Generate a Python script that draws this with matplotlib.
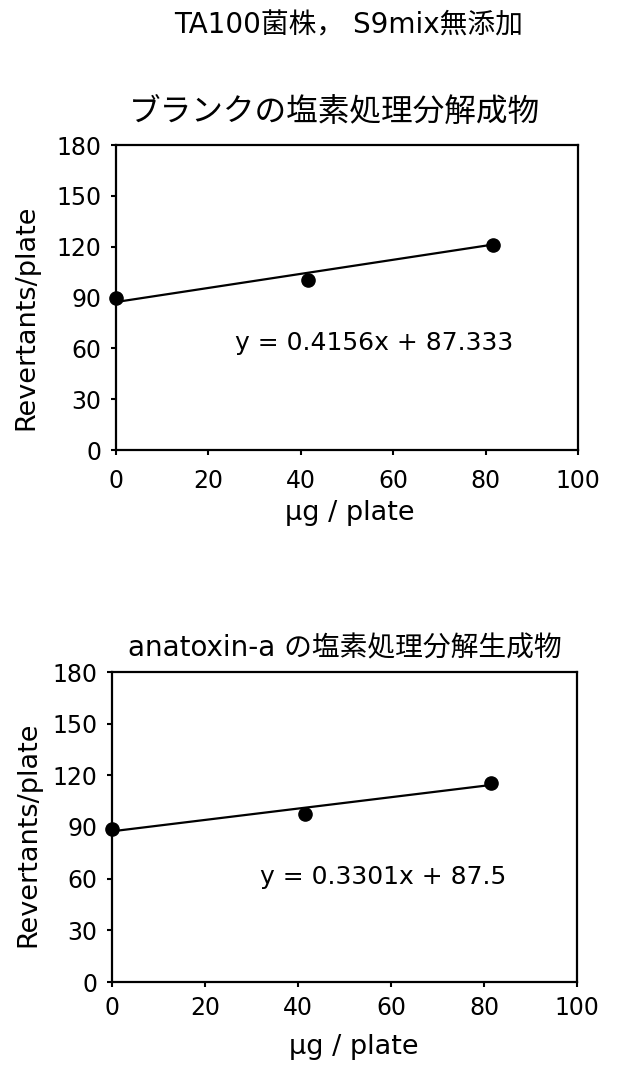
import matplotlib
matplotlib.use("Agg")
import matplotlib.pyplot as plt
import numpy as np

plt.rcParams['font.family'] = ['DejaVu Sans', 'Noto Sans CJK JP']

main_title = "TA100菌株， S9mix無添加"
titles = ["ブランクの塩素処理分解成物", "anatoxin-a の塩素処理分解生成物"]
dose = [0, 41.5, 81.5]
blank_rev = [89.7, 100.3, 121.0]
anatoxin_rev = [89.0, 97.6, 115.4]
slopes = [0.4156, 0.3301]
intercepts = [87.333, 87.5]
eq_labels = ["y = 0.4156x + 87.333", "y = 0.3301x + 87.5"]
eq_pos = [(25.8, 63), (31.8, 61)]
xticks = [0, 20, 40, 60, 80, 100]
yticks = [0, 30, 60, 90, 120, 150, 180]
xlabel = "μg / plate"
ylabel = "Revertants/plate"

W, H = 622, 1075
fig = plt.figure(figsize=(W/100, H/100), dpi=100)

def fx(px):
    return px / W

def fy(py):
    return 1 - py / H

fig.text(fx(348.5), fy(25), main_title, ha='center', va='center', fontsize=20)

rects = [[116/W, 1-450/H, 462/W, 305/H],
         [112/W, 1-982/H, 465/W, 310/H]]
title_pos = [((128+540)/2, 112, 22.8), ((130+560)/2, 648, 20)]
ylabel_pos = [(26, 317.5), (28, 834)]
xlabel_pos = [(350, 513), (354, 1047)]
xpads = [10, 6.5]
series = [blank_rev, anatoxin_rev]
for i in range(2):
    ax = fig.add_axes(rects[i])
    x = np.array(dose)
    ax.plot(x, series[i], 'o', color='black', markersize=9.5, clip_on=False, zorder=3)
    xl = np.array([x.min(), x.max()])
    ax.plot(xl, slopes[i]*xl + intercepts[i], '-', color='black', lw=1.6, clip_on=False)
    ax.text(eq_pos[i][0], eq_pos[i][1], eq_labels[i], fontsize=18, va='center', ha='left')
    ax.set_xlim(0, 100)
    ax.set_ylim(0, 180)
    ax.set_xticks(xticks)
    ax.set_yticks(yticks)
    ax.tick_params(axis='both', labelsize=17, width=1.5, length=3.6, direction='out', color='black')
    ax.tick_params(axis='x', pad=xpads[i])
    ax.tick_params(axis='y', pad=7)
    for s in ax.spines.values():
        s.set_linewidth(1.6)
    tx, ty, ts = title_pos[i]
    fig.text(fx(tx), fy(ty), titles[i], ha='center', va='center', fontsize=ts)
    lx, ly = ylabel_pos[i]
    fig.text(fx(lx), fy(ly), ylabel, ha='center', va='center', rotation=90, fontsize=19.5)
    lx, ly = xlabel_pos[i]
    fig.text(fx(lx), fy(ly), xlabel, ha='center', va='center', fontsize=19.5)

fig.savefig("out.png", dpi=100)
